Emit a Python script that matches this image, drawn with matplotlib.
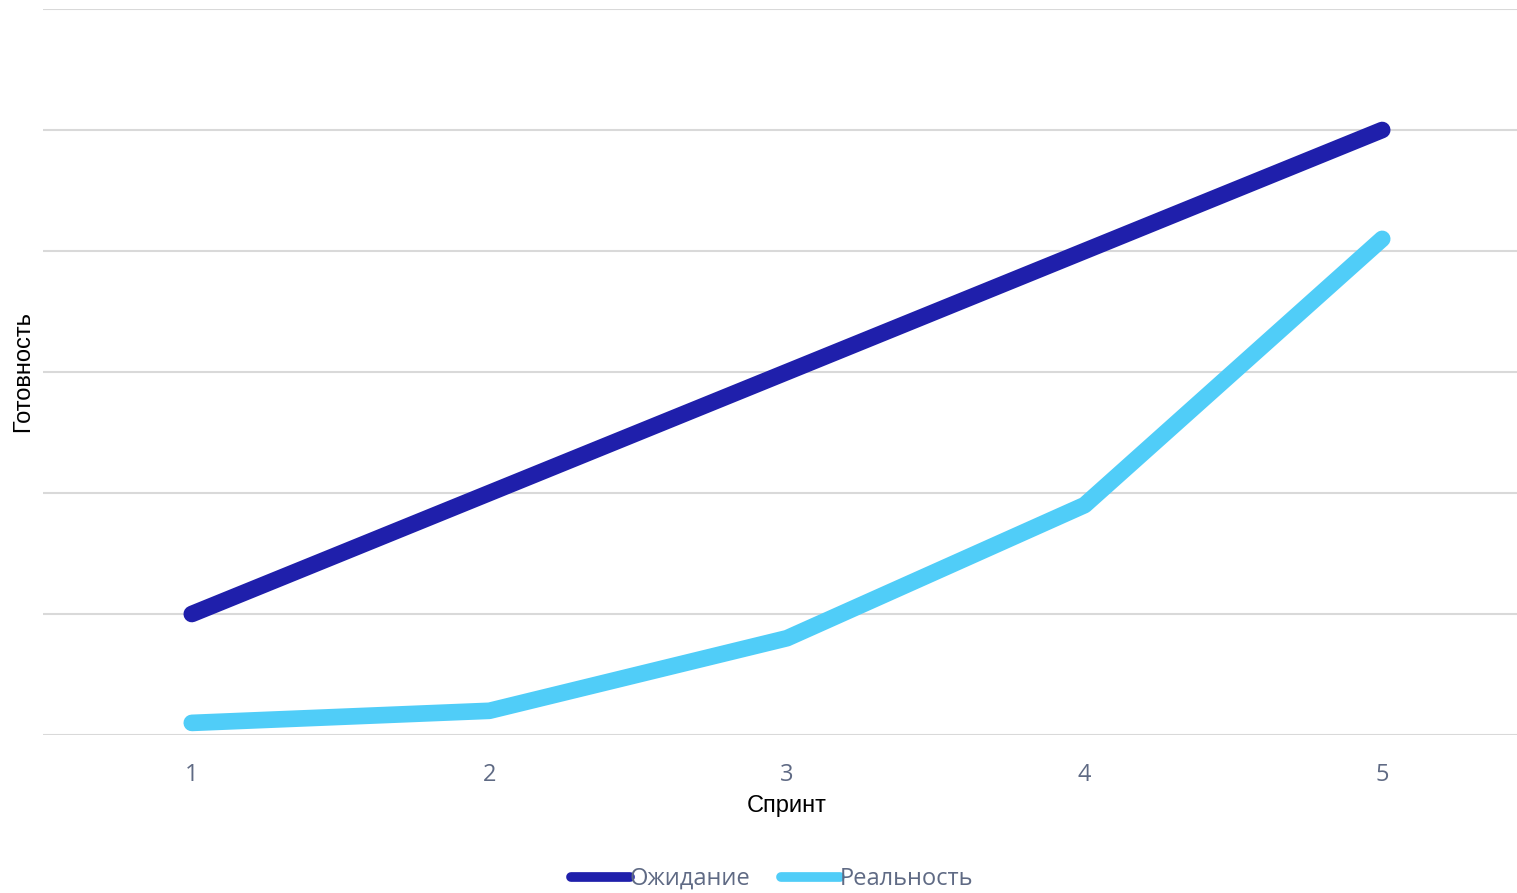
import matplotlib
matplotlib.use("Agg")
import matplotlib.pyplot as plt
from matplotlib.lines import Line2D

sprints = [1, 2, 3, 4, 5]
expected = [1, 2, 3, 4, 5]
actual = [0.1, 0.2, 0.8, 1.9, 4.1]
series_names = ["Ожидание", "Реальность"]
colors = ["#1f1fab", "#50cdf8"]

fig = plt.figure(figsize=(15.17, 8.93), dpi=100)
# plot area runs slightly past the right edge of the canvas
ax = fig.add_axes([43 / 1517, 158 / 893, (1531 - 43) / 1517, 726 / 893])

for ys, c in zip([expected, actual], colors):
    ax.plot(sprints, ys, color=c, lw=12, solid_capstyle="round",
            solid_joinstyle="round", zorder=3)

ax.set_xlim(0.5, 5.5)
ax.set_ylim(0, 6)
ax.set_yticks(range(7))
ax.set_yticklabels([])
ax.set_xticks(sprints)
ax.tick_params(axis="both", length=0)
ax.tick_params(axis="x", pad=20, labelsize=17, labelcolor="#5f6a84")
for lbl in ax.get_xticklabels():
    lbl.set_family("Open Sans")
ax.grid(axis="y", color="#d9d9d9", lw=1.5)
ax.grid(axis="x", visible=False)
for s in ax.spines.values():
    s.set_visible(False)

ax.set_xlabel("Спринт", family="Liberation Sans", fontsize=17, labelpad=6)
ax.set_ylabel("Готовность", family="Liberation Sans", fontsize=17, labelpad=3)

handles = [Line2D([], [], color=c, lw=7, solid_capstyle="round") for c in colors]
leg = fig.legend(handles, series_names, loc="center", bbox_to_anchor=(772 / 1517, 1 - 879 / 893),
                 ncol=2, frameon=False, handlelength=2.5, handletextpad=0.0,
                 columnspacing=1.3, prop={"family": "Open Sans", "size": 17})
for t in leg.get_texts():
    t.set_color("#5f6a84")

fig.savefig("out.png", dpi=100)
